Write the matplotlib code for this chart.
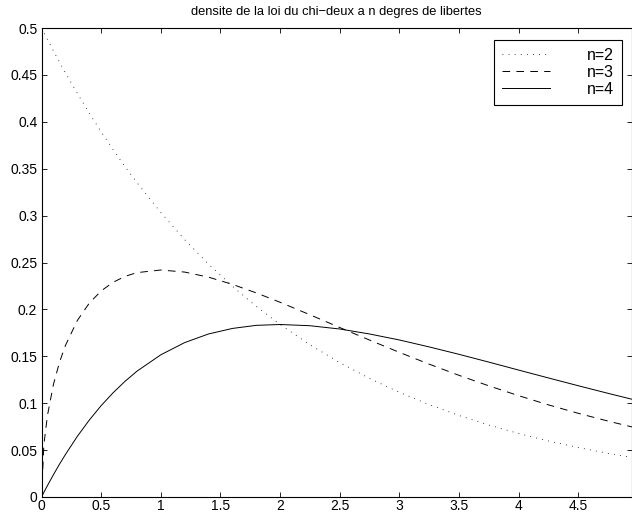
import matplotlib
matplotlib.use('Agg')
from matplotlib import pyplot as plt

plt.rcParams['font.family'] = ['Liberation Sans', 'DejaVu Sans']
plt.rcParams['lines.scale_dashes'] = False

# densites
x = [0, 0.02, 0.05, 0.1, 0.15, 0.2, 0.3, 0.4, 0.5, 0.6, 0.7, 0.8, 1.0, 1.2, 1.4,
     1.6, 1.8, 2.0, 2.25, 2.5, 2.75, 3.0, 3.25, 3.5, 3.75, 4.0, 4.25, 4.5, 4.75, 4.95]
y_n2 = [0.5, 0.4950, 0.4877, 0.4756, 0.4639, 0.4524, 0.4304, 0.4094, 0.3894, 0.3704,
        0.3523, 0.3352, 0.3033, 0.2744, 0.2483, 0.2247, 0.2033, 0.1839, 0.1623, 0.1433,
        0.1264, 0.1116, 0.0985, 0.0869, 0.0767, 0.0677, 0.0597, 0.0527, 0.0465, 0.0421]
y_n3 = [0, 0.0559, 0.0870, 0.1200, 0.1433, 0.1614, 0.1881, 0.2066, 0.2197, 0.2289,
        0.2352, 0.2392, 0.2420, 0.2398, 0.2344, 0.2267, 0.2176, 0.2076, 0.1943, 0.1807,
        0.1673, 0.1542, 0.1416, 0.1297, 0.1185, 0.1080, 0.0982, 0.0892, 0.0809, 0.0747]
y_n4 = [0, 0.0050, 0.0122, 0.0238, 0.0348, 0.0452, 0.0646, 0.0819, 0.0974, 0.1111,
        0.1233, 0.1341, 0.1516, 0.1646, 0.1738, 0.1797, 0.1830, 0.1839, 0.1826, 0.1791,
        0.1738, 0.1674, 0.1600, 0.1521, 0.1438, 0.1353, 0.1269, 0.1186, 0.1105, 0.1042]

xticks = [0, 0.5, 1, 1.5, 2, 2.5, 3, 3.5, 4, 4.5]
xtick_labels = ['0', '0.5', '1', '1.5', '2', '2.5', '3', '3.5', '4', '4.5']
yticks = [0, 0.05, 0.1, 0.15, 0.2, 0.25, 0.3, 0.35, 0.4, 0.45, 0.5]
ytick_labels = ['0', '0.05', '0.1', '0.15', '0.2', '0.25', '0.3', '0.35', '0.4', '0.45', '0.5']

W, H = 632, 513
fig = plt.figure(figsize=(W / 100, H / 100), dpi=100)
ax = fig.add_axes([41.5 / W, 16 / H, (W - 41.5) / W, (497 - 28) / H])

ax.plot(x, y_n2, color='k', lw=0.6, linestyle=(0, (0.6, 3.8)), label='n=2')
ax.plot(x, y_n3, color='k', lw=0.7, linestyle=(0, (5.5, 4.5)), label='n=3')
ax.plot(x, y_n4, color='k', lw=0.7, label='n=4')

ax.set_xlim(0, 4.95)
ax.set_ylim(0, 0.5)
ax.set_xticks(xticks)
ax.set_xticklabels(xtick_labels)
ax.set_yticks(yticks)
ax.set_yticklabels(ytick_labels)
ax.tick_params(direction='in', length=3.8, width=0.6, labelsize=10, pad=3,
               top=True, right=True)
ax.tick_params(axis='x', pad=1.5)
for s in ax.spines.values():
    s.set_linewidth(0.8)

ax.set_title('densite de la loi du chi\u2212deux a n degres de libertes', fontsize=9.3, pad=9)

leg = ax.legend(loc='upper right', bbox_to_anchor=(622 / W, 1 - 40 / H),
                bbox_transform=fig.transFigure, fontsize=11.5, markerfirst=True,
                handlelength=3.0, handletextpad=2.3, labelspacing=0.12,
                borderpad=0.5, borderaxespad=0, fancybox=False, framealpha=1,
                edgecolor='k')
leg.get_frame().set_linewidth(0.8)

fig.savefig('out.png', dpi=100)
